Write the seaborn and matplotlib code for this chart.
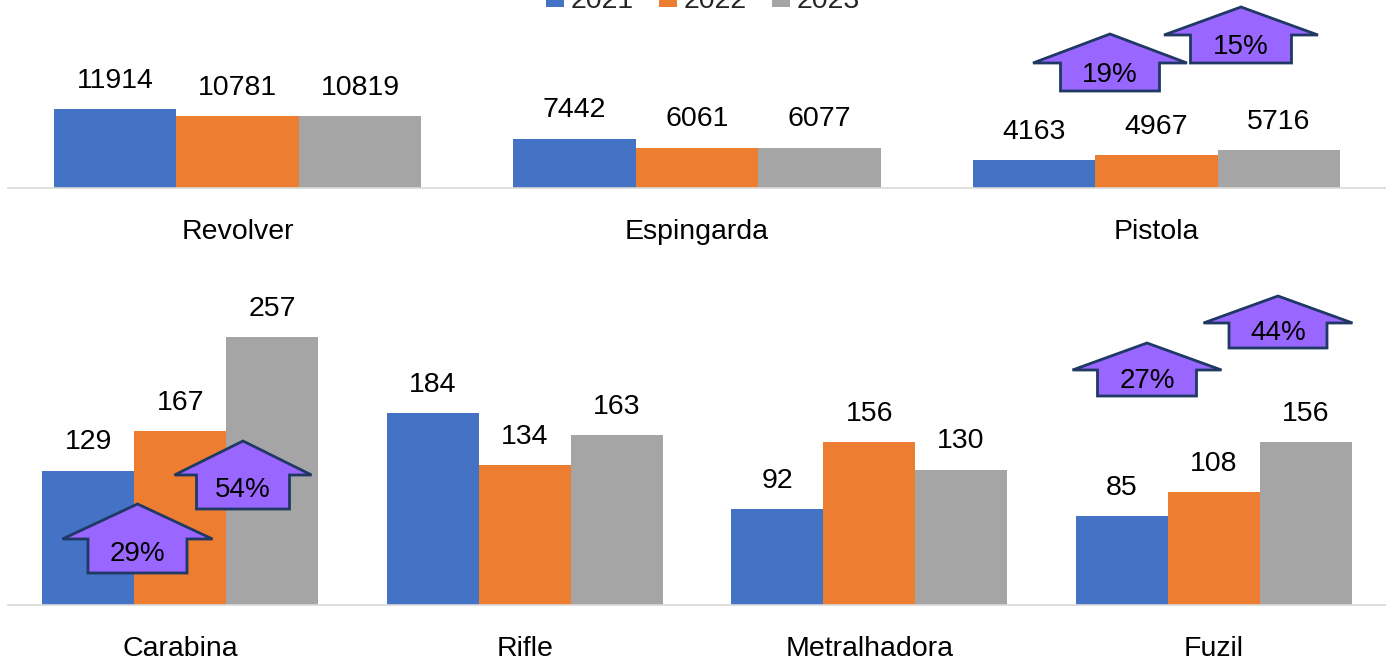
import pandas as pd
import matplotlib.pyplot as plt
from matplotlib.patches import Polygon
import seaborn as sns

# dados
anos = ['2021', '2022', '2023']
armas_top = ['Revolver', 'Espingarda', 'Pistola']
valores_top = {
    '2021': [11914, 7442, 4163],
    '2022': [10781, 6061, 4967],
    '2023': [10819, 6077, 5716],
}
armas_bot = ['Carabina', 'Rifle', 'Metralhadora', 'Fuzil']
valores_bot = {
    '2021': [129, 184, 92, 85],
    '2022': [167, 134, 156, 108],
    '2023': [257, 163, 130, 156],
}

cores = ['#4472C4', '#ED7D31', '#A5A5A5']
W, H = 1386, 659


def long_df(armas, valores):
    linhas = []
    for ano in anos:
        for arma, v in zip(armas, valores[ano]):
            linhas.append({'arma': arma, 'ano': ano, 'valor': v})
    return pd.DataFrame(linhas)


df_top = long_df(armas_top, valores_top)
df_bot = long_df(armas_bot, valores_bot)

sns.set_theme(style="white")
plt.rcParams['font.family'] = ['Liberation Sans', 'DejaVu Sans']

fig = plt.figure(figsize=(W / 100, H / 100), dpi=100)


def frac(x, y):
    return x / W, 1 - y / H


# eixos em pixels (esquerda, topo, base)
ax1 = fig.add_axes([8 / W, 1 - 188 / H, (W - 8) / W, 178 / H])
ax2 = fig.add_axes([8 / W, 1 - 605 / H, (W - 8) / W, 345 / H])

for ax, df, ymax in [(ax1, df_top, 26770), (ax2, df_bot, 331)]:
    sns.barplot(data=df, x='arma', y='valor', hue='ano', palette=cores,
                width=0.8, saturation=1, ax=ax, linewidth=0)
    for cont in ax.containers:
        ax.bar_label(cont, padding=11, fontsize=20.5, color='#000000')
    ax.set_ylim(0, ymax)
    ax.set_xlim(-0.5, len(df['arma'].unique()) - 0.5)
    ax.set_xlabel('')
    ax.set_ylabel('')
    ax.set_yticks([])
    ax.tick_params(axis='x', length=0, pad=22, labelsize=20.5, labelcolor='#000000')
    for s in ['top', 'right', 'left']:
        ax.spines[s].set_visible(False)
    ax.spines['bottom'].set_color('#D9D9D9')
    ax.spines['bottom'].set_linewidth(1.2)
    ax.get_legend().remove()

handles, labels = ax1.get_legend_handles_labels()
fig.legend(handles, labels, loc='center', bbox_to_anchor=(703 / W, 1 - 0.5 / H),
           ncol=3, frameon=False, fontsize=20.5, handlelength=0.63, handleheight=0.63,
           handletextpad=0.22, columnspacing=0.9, borderaxespad=0, borderpad=0)

# setas de variacao: (cx, base, larg cabeca, larg corpo, alt corpo, alt cabeca)
setas = [
    (1110, 91, 154, 99, 28, 29),
    (1241, 63, 154, 101, 28, 28),
    (137.5, 573, 150, 99, 34, 35),
    (243, 509, 137, 93, 34, 34),
    (1147, 396, 149, 99, 26, 27),
    (1278, 348, 149, 98, 25, 27),
]
pares = [(valores_top, 2, '2021', '2022'), (valores_top, 2, '2022', '2023'),
         (valores_bot, 0, '2021', '2022'), (valores_bot, 0, '2022', '2023'),
         (valores_bot, 3, '2021', '2022'), (valores_bot, 3, '2022', '2023')]

for (cx, by, hw, bw, bh, hh), (vals, i, a0, a1) in zip(setas, pares):
    pct = round((vals[a1][i] / vals[a0][i] - 1) * 100)
    pts = [(cx - bw / 2, by), (cx - bw / 2, by - bh), (cx - hw / 2, by - bh),
           (cx, by - bh - hh), (cx + hw / 2, by - bh), (cx + bw / 2, by - bh),
           (cx + bw / 2, by)]
    poly = Polygon([frac(x, y) for x, y in pts], closed=True, transform=fig.transFigure,
                   facecolor='#9966FF', edgecolor='#1F3864', linewidth=2, joinstyle='miter')
    fig.add_artist(poly)
    tx, ty = frac(cx, by - bh / 2 - 2)
    fig.text(tx, ty, f'{pct}%', ha='center', va='center', fontsize=20,
             family=['Liberation Sans Narrow', 'Liberation Sans'], color='#000000')

plt.savefig('out.png', dpi=100)
plt.close()
